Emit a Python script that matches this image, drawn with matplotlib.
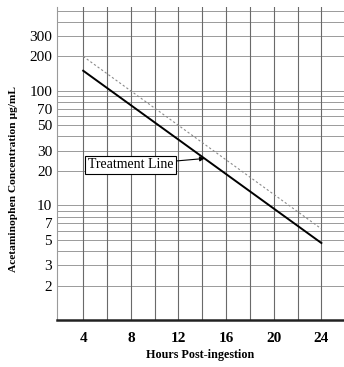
import matplotlib
matplotlib.use("Agg")
import matplotlib.pyplot as plt
import numpy as np

hours = [4, 24]
treatment_line = [150, 4.7]
upper_line = [200, 6.25]
x_ticks = [4, 8, 12, 16, 20, 24]
y_ticks = [2, 3, 5, 7, 10, 20, 30, 50, 70, 100, 200, 300]
y_grid = [2, 3, 4, 5, 6, 7, 8, 9, 10, 20, 30, 40, 50, 60, 70, 80, 90,
          100, 200, 300, 400, 500]
x_grid = [4, 6, 8, 10, 12, 14, 16, 18, 20, 22, 24]

plt.rcParams['font.family'] = ['Liberation Serif', 'DejaVu Serif']

fig = plt.figure(figsize=(3.44, 3.67), dpi=100)
ax = fig.add_axes([57/344, 47/367, 1 - 57/344, (321-8)/367])
ax.set_yscale('log')
ax.set_xlim(1.8, 25.9)
ax.set_ylim(1, 540)

for y in y_grid:
    ax.axhline(y, color='#9a9a9a', lw=0.7, zorder=1)
for x in x_grid:
    ax.axvline(x, color='#6a6a6a', lw=0.8, zorder=1)

ax.plot(hours, upper_line, color='#8a8a8a', lw=0.8, ls=(0, (2, 2)), zorder=3)
ax.plot(hours, treatment_line, color='black', lw=1.4, zorder=4)

ax.annotate('Treatment Line', xy=(14.2, 25.7), xytext=(8.0, 22.6),
            ha='center', va='center', fontsize=10,
            bbox=dict(boxstyle='square,pad=0.2', fc='white', ec='black', lw=0.8),
            arrowprops=dict(arrowstyle='-|>', color='black', lw=0.8,
                            mutation_scale=7, shrinkA=0, shrinkB=0),
            zorder=5)

ax.set_xticks(x_ticks)
ax.set_xticklabels([str(v) for v in x_ticks], fontweight='bold', fontsize=11)
ax.set_yticks(y_ticks)
ax.set_yticklabels([str(v) for v in y_ticks], fontsize=11)
ax.yaxis.set_minor_locator(matplotlib.ticker.NullLocator())
ax.tick_params(axis='both', length=0)
ax.tick_params(axis='y', pad=3.5)
ax.tick_params(axis='x', pad=8.5)

for s in ['top', 'right']:
    ax.spines[s].set_visible(False)
ax.spines['left'].set_color('#9a9a9a')
ax.spines['left'].set_linewidth(0.8)
ax.spines['bottom'].set_color('#222222')
ax.spines['bottom'].set_linewidth(1.8)

ax.set_xlabel('Hours Post-ingestion', fontweight='bold', fontsize=8.7, labelpad=3)
ax.set_ylabel('Acetaminophen Concentration µg/mL', fontweight='bold', fontsize=8.2)
ax.yaxis.set_label_coords(-0.136, 0.45)

fig.savefig('out.png', dpi=100)
